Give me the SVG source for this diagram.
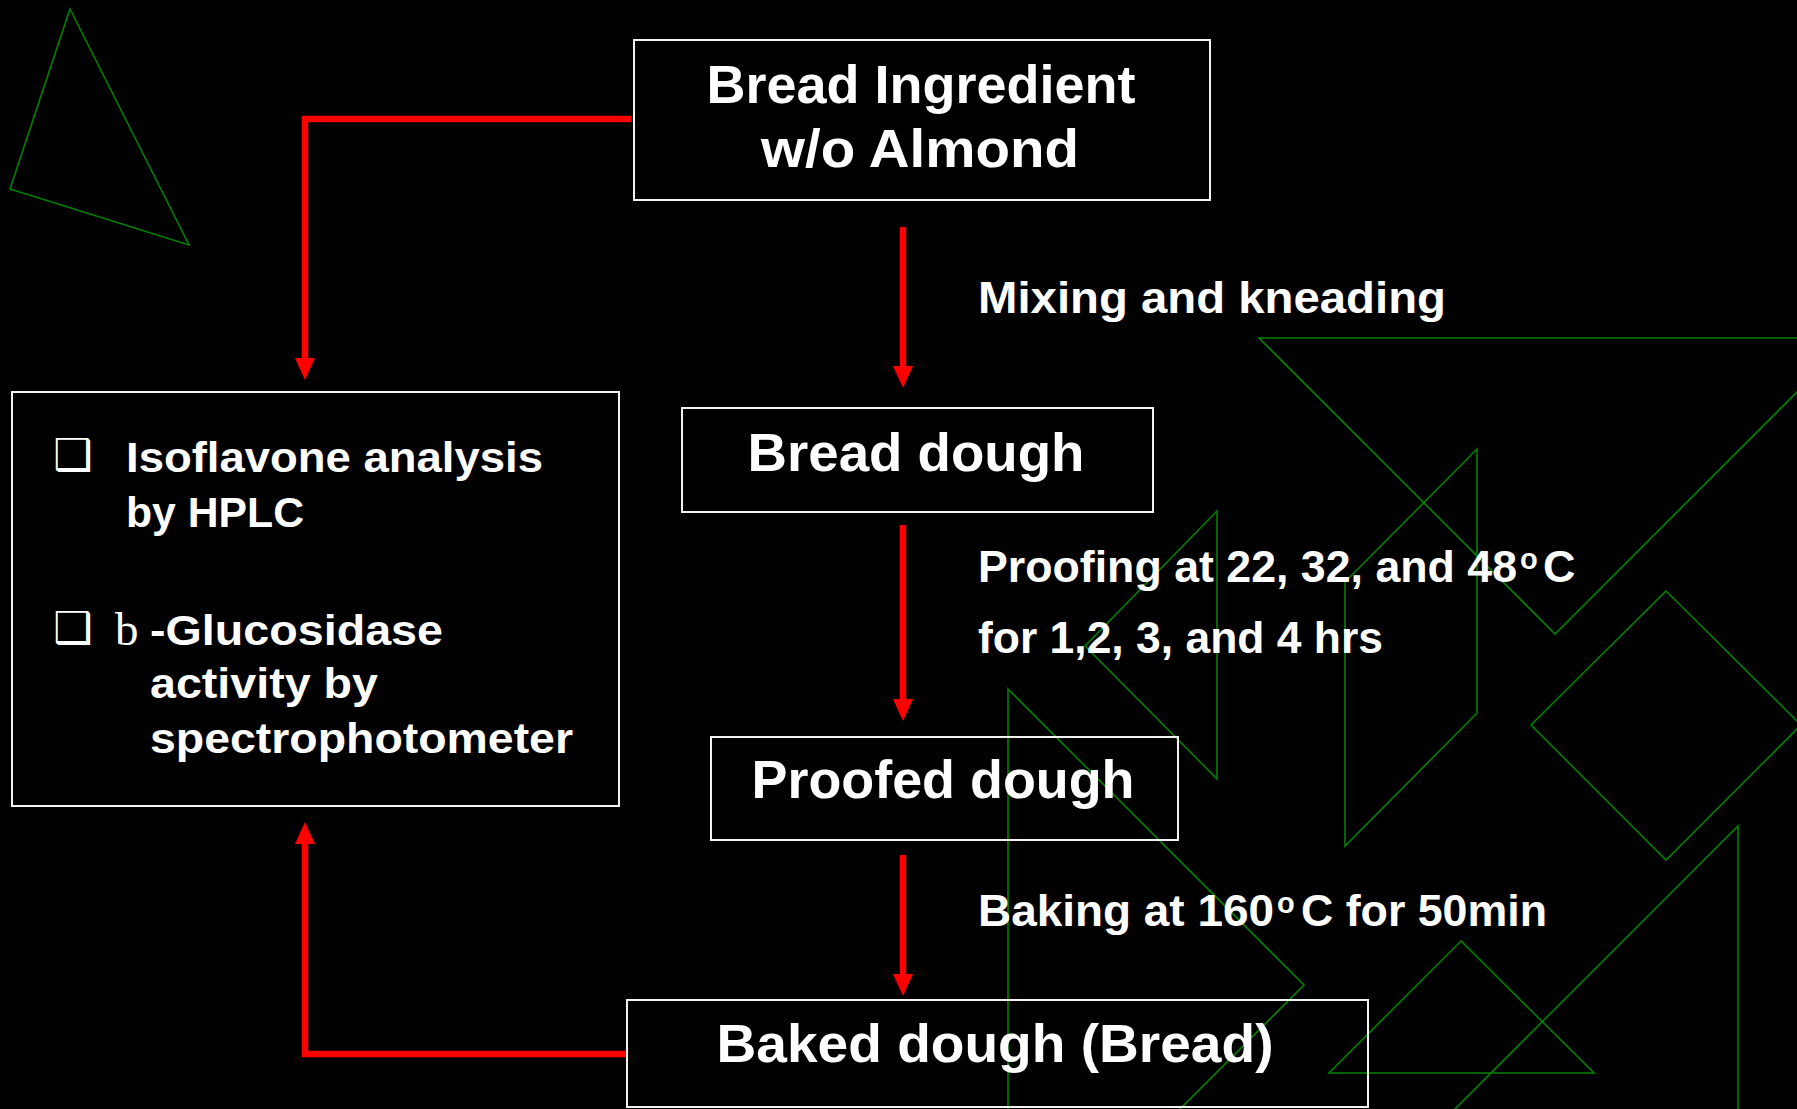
<svg xmlns="http://www.w3.org/2000/svg" width="1797" height="1109" viewBox="0 0 1797 1109">
<defs>
<style>
.bg{fill:#000}
.deco{fill:none;stroke:#008000;stroke-width:1.6}
.box{fill:none;stroke:#f2f2f2;stroke-width:2}
.t{font-family:"Liberation Sans",Arial,sans-serif;font-weight:bold;fill:#fff}
.title{font-size:53px;text-anchor:middle}
.lbl{font-size:45px}
.item{font-size:42px}
.sup{font-size:29px}
.bul{font-family:"DejaVu Sans",sans-serif;font-size:44px;fill:#fff}
.conn{fill:none;stroke:#ff0000;stroke-width:6.5}
</style>
<marker id="ah" markerUnits="userSpaceOnUse" markerWidth="22" markerHeight="20" refX="0" refY="10" orient="auto" viewBox="0 0 22 20">
<path d="M0,0 L22,10 L0,20 Z" fill="#ff0000"/>
</marker>
</defs>
<rect class="bg" x="0" y="0" width="1797" height="1109"/>
<g id="background-shapes">
<polygon class="deco" points="70,9 10,189 189,245"/>
<polygon class="deco" points="1259,338 1851,338 1555,634"/>
<polygon class="deco" points="1477,449 1345,582 1345,846 1477,713"/>
<polygon class="deco" points="1217,511 1085,646 1217,779"/>
<polygon class="deco" points="1008,689 1304,985 1008,1281"/>
<polygon class="deco" points="1666,591 1801,725 1666,860 1531,725"/>
<polygon class="deco" points="1461,941 1329,1073 1594,1073"/>
<polygon class="deco" points="1738,826 1738,1300 1264,1300"/>
</g>
<g id="connectors">
<path class="conn" d="M631,119 H305 V358" marker-end="url(#ah)"/>
<path class="conn" d="M903,227 V366" marker-end="url(#ah)"/>
<path class="conn" d="M903,525 V699" marker-end="url(#ah)"/>
<path class="conn" d="M903,855 V974" marker-end="url(#ah)"/>
<path class="conn" d="M627,1054 H305 V844" marker-end="url(#ah)"/>
</g>
<g id="node-ingredient">
<rect class="box" x="634" y="40" width="576" height="160"/>
<text class="t title" x="921" y="103" textLength="429" lengthAdjust="spacingAndGlyphs">Bread Ingredient</text>
<text class="t title" x="920" y="167" textLength="318" lengthAdjust="spacingAndGlyphs">w/o Almond</text>
</g>
<g id="node-analysis">
<rect class="box" x="12" y="392" width="607" height="414"/>
<text class="bul" x="53" y="470">❑</text>
<text class="t item" x="126" y="472" textLength="417" lengthAdjust="spacingAndGlyphs">Isoflavone analysis</text>
<text class="t item" x="126" y="527" textLength="178" lengthAdjust="spacingAndGlyphs">by HPLC</text>
<text class="bul" x="53" y="643">❑</text>
<text x="115" y="645" style="font-family:'Liberation Serif','Times New Roman',serif;font-size:47px;fill:#fff">b</text>
<text class="t item" x="150" y="645" textLength="293" lengthAdjust="spacingAndGlyphs">-Glucosidase</text>
<text class="t item" x="150" y="698" textLength="228" lengthAdjust="spacingAndGlyphs">activity by</text>
<text class="t item" x="150" y="753" textLength="423" lengthAdjust="spacingAndGlyphs">spectrophotometer</text>
</g>
<g id="node-bread-dough">
<rect class="box" x="682" y="408" width="471" height="104"/>
<text class="t title" x="916" y="471" textLength="337" lengthAdjust="spacingAndGlyphs">Bread dough</text>
</g>
<g id="node-proofed-dough">
<rect class="box" x="711" y="737" width="467" height="103"/>
<text class="t title" x="943" y="798" textLength="383" lengthAdjust="spacingAndGlyphs">Proofed dough</text>
</g>
<g id="node-baked-dough">
<rect class="box" x="627" y="1000" width="741" height="107"/>
<text class="t title" x="995" y="1062" textLength="557" lengthAdjust="spacingAndGlyphs">Baked dough (Bread)</text>
</g>
<g id="labels">
<text class="t lbl" x="978" y="313" textLength="468" lengthAdjust="spacingAndGlyphs">Mixing and kneading</text>
<text class="t lbl" x="978" y="582"><tspan textLength="539" lengthAdjust="spacingAndGlyphs">Proofing at 22, 32, and 48</tspan><tspan class="sup" x="1520" y="569">o</tspan><tspan x="1543" y="582">C</tspan></text>
<text class="t lbl" x="978" y="653" textLength="405" lengthAdjust="spacingAndGlyphs">for 1,2, 3, and 4 hrs</text>
<text class="t lbl" x="978" y="926"><tspan textLength="296" lengthAdjust="spacingAndGlyphs">Baking at 160</tspan><tspan class="sup" x="1277" y="913">o</tspan><tspan x="1301" y="926" textLength="246" lengthAdjust="spacingAndGlyphs">C for 50min</tspan></text>
</g>
</svg>
